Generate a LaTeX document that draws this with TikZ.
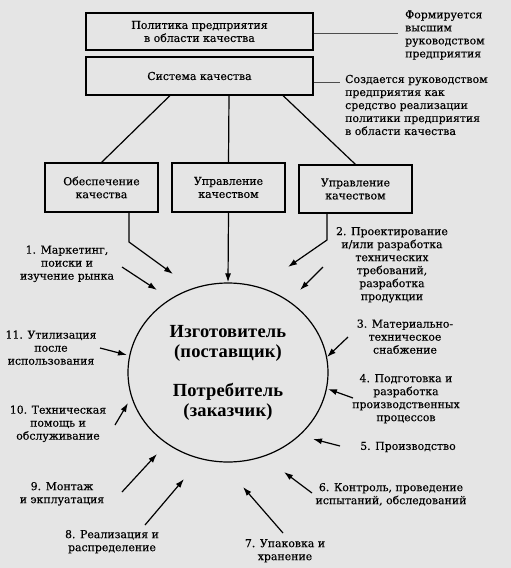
\documentclass[tikz,border=0pt]{standalone}
\usepackage{fontspec}
\setmainfont{DejaVu Serif}[FakeBold=0.3]
\newfontfamily\circfont{Liberation Serif}[LetterSpace=1]
\usetikzlibrary{arrows.meta,shapes.geometric}
\definecolor{paper}{gray}{0.9}
\newcommand{\cl}[1]{\begin{tabular}{@{}c@{}}#1\end{tabular}}
\tikzset{
  box/.style={draw, line width=1.1pt, align=center, inner sep=0pt,
    font=\fontsize{10.9}{13}\selectfont},
  lbl/.style={inner sep=0pt, font=\fontsize{10.9}{13}\selectfont},
  lbll/.style={align=left, inner sep=0pt, font=\fontsize{10.9}{13}\selectfont},
  arr/.style={line width=1.2pt, -{Latex[length=9pt,width=6pt]}},
  plain/.style={line width=1.2pt},
  thin/.style={line width=0.8pt, black!70},
}
\begin{document}
\begin{tikzpicture}[x=1pt,y=-1pt]
\fill[paper] (0,0) rectangle (511,568);
\useasboundingbox (0,0) rectangle (511,568);

% top boxes
\node[box, minimum width=227pt, minimum height=37pt] (b1) at (199.5,31.5)
  {Политика предприятия\\в области качества};
\node[box, minimum width=227pt, minimum height=38pt] (b2) at (199.5,76)
  {Система качества};

% side notes
\node[lbll, anchor=west] (n1) at (405,35)
  {Формируется\\высшим\\руководством\\предприятия};
\node[lbll, anchor=west] (n2) at (345,105)
  {Создается руководством\\предприятия как\\средство реализации\\политики предприятия\\в области качества};
\coordinate (n1e) at (398,33);
\coordinate (n2e) at (340,82);
\draw[thin] ([yshift=-1.5pt]b1.east) -- (n1e);
\draw[thin] ([yshift=-6pt]b2.east) -- (n2e);

% row boxes
\node[box, minimum width=113pt, minimum height=49pt] (bA) at (101.5,187.5)
  {Обеспечение\\качества};
\node[box, minimum width=113pt, minimum height=49pt] (bB) at (228.5,187.5)
  {Управление\\качеством};
\node[box, minimum width=113pt, minimum height=48pt] (bC) at (355.5,189)
  {Управление\\качеством};

\draw[plain] ([xshift=-29.5pt]b2.south) -- (bA.north);
\draw[plain] ([xshift=29.5pt]b2.south) -- (bB.north);
\draw[plain] ([xshift=83.5pt]b2.south) -- (bC.north);

% central circle
\node[ellipse, draw, line width=1.2pt, minimum width=200pt, minimum height=179pt,
  inner sep=0pt, align=center, font=\circfont\bfseries\fontsize{18.5}{20}\selectfont]
  (c) at (228,372.5)
  {Изготовитель\\(поставщик)\\[19pt]Потребитель\\(заказчик)};

% arrows from boxes
\coordinate (aBend) at (129,242);
\coordinate (aEnd) at (173,274);
\coordinate (cBend) at (327,240);
\coordinate (cEnd) at (288,267);
\draw[arr] ([xshift=27.5pt]bA.south) -- (aBend) -- (aEnd);
\draw[arr] (bB.south) -- (c.north);
\draw[arr] ([xshift=-28.5pt]bC.south) -- (cBend) -- (cEnd);

% labels
\node[lbl] (l1) at (67,264) {\cl{1. Маркетинг,\\поиски и\\изучение рынка}};
\node[lbl] (l2) at (392,265) {\cl{2. Проектирование\\и/или разработка\\технических\\требований,\\разработка\\продукции}};
\node[lbl] (l3) at (405,338) {\cl{3. Материально-\\техническое\\снабжение}};
\node[lbl] (l4) at (406,399) {\cl{4. Подготовка и\\разработка\\производственных\\процессов}};
\node[lbl] (l5) at (408,447) {5. Производство};
\node[lbl] (l6) at (391,495) {\cl{6. Контроль, проведение\\испытаний, обследований}};
\node[lbl] (l7) at (285,551) {\cl{7. Упаковка и\\хранение}};
\node[lbl] (l8) at (112,542) {\cl{8. Реализация и\\распределение}};
\node[lbl] (l9) at (62,494) {\cl{9. Монтаж\\и экплуатация}};
\node[lbl] (l10) at (58,424) {\cl{10. Техническая\\помощь и\\обслуживание}};
\node[lbl] (l11) at (51,349) {\cl{11. Утилизация\\после\\использования}};

% small arrows
\coordinate (s1) at (122,267);  \coordinate (e1) at (157,290);
\coordinate (s2) at (323,267);  \coordinate (e2) at (300,290);
\coordinate (s3) at (348,337);  \coordinate (e3) at (327,357);
\coordinate (s4) at (353,398);  \coordinate (e4) at (328,389);
\coordinate (s5) at (340,446);  \coordinate (e5) at (313,439);
\coordinate (s6) at (312,493);  \coordinate (e6) at (284,472);
\coordinate (s7) at (283,533);  \coordinate (e7) at (243,487);
\coordinate (s8) at (145,525);  \coordinate (e8) at (184,479);
\coordinate (s9) at (122,492);  \coordinate (e9) at (157,454);
\coordinate (s10) at (115,425); \coordinate (e10) at (128,403);
\coordinate (s11) at (100,348); \coordinate (e11) at (127,355);
\foreach \i in {1,...,11}{\draw[arr] (s\i) -- (e\i);}
\end{tikzpicture}
\end{document}
